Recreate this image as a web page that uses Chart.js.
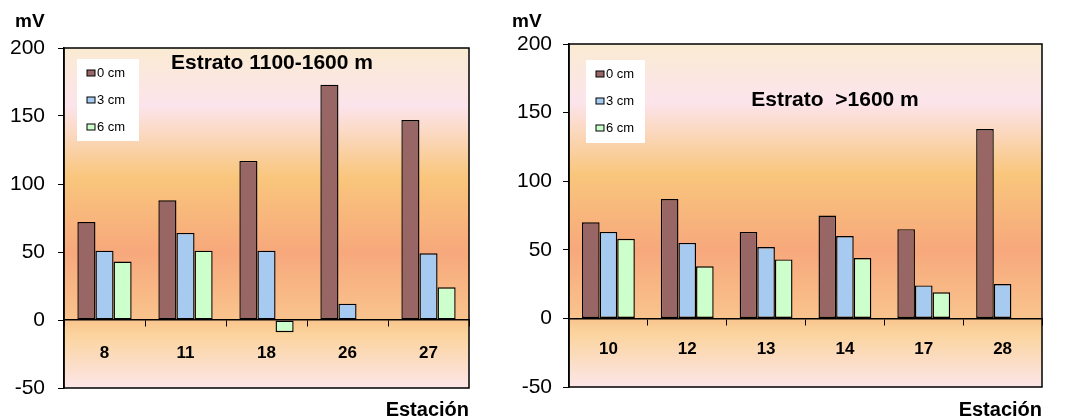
<!DOCTYPE html>
<html>
<head>
<meta charset="utf-8">
<script src="https://cdn.jsdelivr.net/npm/chart.js@4.4.0/dist/chart.umd.min.js"></script>
<style>
  body { margin: 0; background: #fff; }
  #wrap { position: relative; width: 1074px; height: 418px; }
  canvas { position: absolute; top: 0; }
</style>
</head>
<body>
<div id="wrap">
  <canvas id="leftChart" width="500" height="418" style="left:0"></canvas>
  <canvas id="rightChart" width="574" height="418" style="left:500px"></canvas>
</div>
<script>
// data (mV)
const seriesLabels = ['0 cm', '3 cm', '6 cm'];
const seriesColors = ['#996666', '#A6CAF0', '#CCFFCC'];

const leftStations = ['8', '11', '18', '26', '27'];
const left0cm = [72, 88, 117, 173, 147];
const left3cm = [51, 64, 51, 12, 49];
const left6cm = [43, 51, -9, null, 24];

const rightStations = ['10', '12', '13', '14', '17', '28'];
const right0cm = [70, 87, 63, 75, 65, 138];
const right3cm = [63, 55, 52, 60, 24, 25];
const right6cm = [58, 38, 43, 44, 19, null];

const yMin = -50, yMax = 200, yStep = 50;

const FONT = 'Arial, "Liberation Sans", sans-serif';

// background gradient, legend box, titles
const decorPlugin = {
  id: 'decor',
  beforeDraw(chart, args, opts) {
    let ctx = chart.ctx, a = chart.chartArea;
    let g = ctx.createLinearGradient(0, a.top, 0, a.bottom);
    g.addColorStop(0, '#FAEBD2');
    g.addColorStop(0.17, '#FCE4EC');
    g.addColorStop(0.38, '#F9C67C');
    g.addColorStop(0.6, '#F7A87C');
    g.addColorStop(0.8, '#F9C48D');
    g.addColorStop(0.84, '#FBD39C');
    g.addColorStop(1, '#FCE6E8');
    ctx.save();
    ctx.fillStyle = g;
    ctx.fillRect(a.left, a.top, a.right - a.left, a.bottom - a.top);
    ctx.restore();
  },
  afterDraw(chart, args, opts) {
    let ctx = chart.ctx, a = chart.chartArea;
    ctx.save();
    // frame
    ctx.strokeStyle = '#000';
    ctx.lineWidth = 1.5;
    ctx.strokeRect(a.left, a.top, a.right - a.left, a.bottom - a.top);

    // legend
    let lb = opts.legend;
    ctx.fillStyle = '#fff';
    ctx.fillRect(lb.x, lb.y, lb.w, lb.h);
    ctx.font = '13px ' + FONT;
    ctx.textBaseline = 'middle';
    ctx.textAlign = 'left';
    chart.data.datasets.forEach((ds, i) => {
      let cy = lb.y + 14 + i * 27;
      ctx.fillStyle = ds.backgroundColor;
      ctx.fillRect(lb.x + 10, cy - 3, 8, 6);
      ctx.strokeStyle = '#000';
      ctx.lineWidth = 1;
      ctx.strokeRect(lb.x + 10, cy - 3, 8, 6);
      ctx.fillStyle = '#000';
      ctx.fillText(ds.label, lb.x + 20, cy);
    });

    // chart title
    ctx.font = 'bold 21px ' + FONT;
    ctx.textAlign = 'center';
    ctx.fillText(opts.title, opts.titleX, opts.titleY);

    // axis captions
    ctx.font = 'bold 19px ' + FONT;
    ctx.textAlign = 'left';
    ctx.fillText('mV', opts.unitX, 22);
    ctx.font = 'bold 20px ' + FONT;
    ctx.textAlign = 'right';
    ctx.fillText('Estación', a.right, 410);
    ctx.restore();
  }
};

function makeChart(id, stations, v0, v3, v6, cfg) {
  let values = [v0, v3, v6];
  return new Chart(document.getElementById(id), {
    type: 'bar',
    data: {
      labels: stations,
      datasets: values.map((v, i) => ({
        label: seriesLabels[i],
        data: v,
        backgroundColor: seriesColors[i],
        borderColor: '#000',
        borderWidth: 1.4,
        borderSkipped: false,
        categoryPercentage: 0.67,
        barPercentage: 1
      }))
    },
    options: {
      responsive: false,
      animation: false,
      layout: { padding: cfg.padding },
      plugins: {
        legend: { display: false },
        tooltip: { enabled: false },
        decor: cfg
      },
      scales: {
        x: {
          position: { y: 0 },
          grid: { drawOnChartArea: false, offset: true, tickLength: 6, color: '#000', lineWidth: 1 },
          border: { color: '#000', width: 1.5 },
          ticks: { color: '#000', font: { family: FONT, size: 17, weight: 'bold' }, padding: cfg.labelPad }
        },
        y: {
          min: yMin,
          max: yMax,
          ticks: { stepSize: yStep, color: '#000', font: { family: FONT, size: 21 }, padding: cfg.tickPad },
          grid: { drawOnChartArea: false, tickLength: 6, color: '#000' },
          border: { color: '#000', width: 1.5 },
          afterFit: s => { s.width = cfg.axisWidth; }
        }
      }
    },
    plugins: [decorPlugin]
  });
}

makeChart('leftChart', leftStations, left0cm, left3cm, left6cm, {
  padding: { left: 0, right: 31, top: 48, bottom: 30 },
  axisWidth: 64, tickPad: 13, labelPad: 17,
  legend: { x: 77, y: 59, w: 62, h: 82 },
  title: 'Estrato 1100-1600 m', titleX: 272, titleY: 63,
  unitX: 15
});

makeChart('rightChart', rightStations, right0cm, right3cm, right6cm, {
  padding: { left: 0, right: 32, top: 44, bottom: 31 },
  axisWidth: 69, tickPad: 11, labelPad: 15,
  legend: { x: 86, y: 60, w: 59, h: 83 },
  title: 'Estrato  >1600 m', titleX: 335, titleY: 100,
  unitX: 12
});
</script>
</body>
</html>
